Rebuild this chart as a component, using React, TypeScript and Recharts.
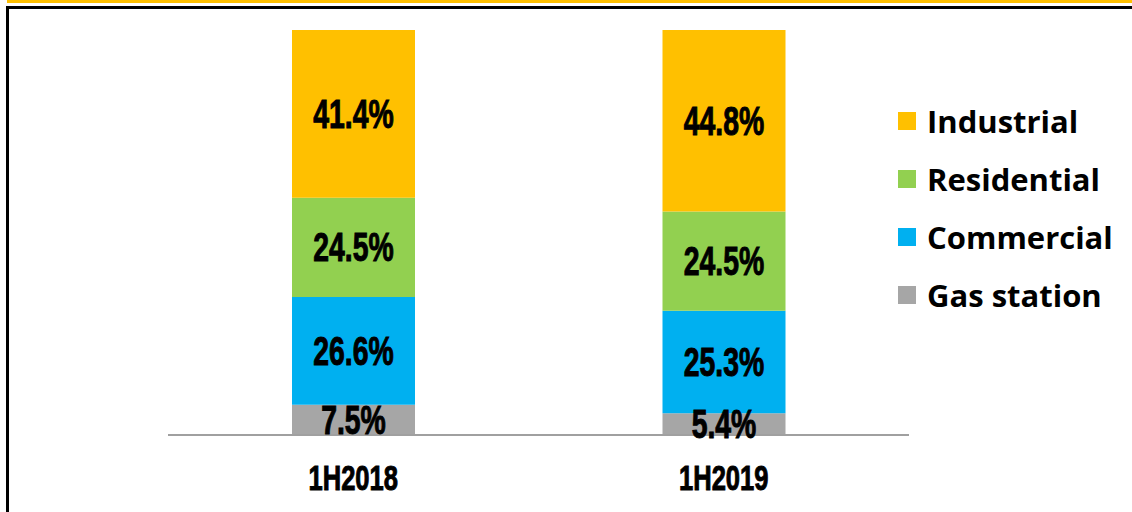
import React from 'react';
import { BarChart, Bar, XAxis, YAxis, LabelList } from 'recharts';

const periods = ['1H2018', '1H2019'];
const gasStation = [7.5, 5.4];
const commercial = [26.6, 25.3];
const residential = [24.5, 24.5];
const industrial = [41.4, 44.8];

const seriesNames = ['Industrial', 'Residential', 'Commercial', 'Gas station'];
const seriesColors = ['#FFC000', '#92D050', '#00B0F0', '#A6A6A6'];

const data = periods.map((p, i) => ({
  period: p,
  gas: gasStation[i],
  commercial: commercial[i],
  residential: residential[i],
  industrial: industrial[i],
}));

const numFont = '"Liberation Sans", Arial, sans-serif';

// condensed bold text, squeezed horizontally
const NarrowText = ({ x, y, size, scale, children }: any) => (
  <text
    transform={`translate(${x},${y}) scale(${scale},1)`}
    textAnchor="middle"
    fontFamily={numFont}
    fontWeight="bold"
    fontSize={size}
    fill="#000"
    stroke="#000"
    strokeWidth={1}
  >
    {children}
  </text>
);

// value label centred in each segment
const SegmentLabel = (props: any) => {
  const { x, y, width, height, value } = props;
  return (
    <NarrowText x={x + width / 2} y={y + height / 2 + 14} size={40} scale={0.71}>
      {`${value.toFixed(1)}%`}
    </NarrowText>
  );
};

const PeriodTick = (props: any) => {
  const { x, y, payload } = props;
  return (
    <NarrowText x={x} y={y + 47} size={36} scale={0.71}>
      {payload.value}
    </NarrowText>
  );
};

const LegendBox = () => (
  <div
    style={{
      position: 'absolute',
      left: 898,
      top: 92,
      fontFamily: '"Open Sans", sans-serif',
      fontWeight: 700,
      fontSize: 31,
      whiteSpace: 'nowrap',
    }}
  >
    {seriesNames.map((name, i) => (
      <div key={name} style={{ display: 'flex', alignItems: 'center', height: 58 }}>
        <span
          style={{
            display: 'inline-block',
            width: 18,
            height: 18,
            background: seriesColors[i],
            marginRight: 11,
          }}
        />
        <span style={{ color: '#000' }}>{name}</span>
      </div>
    ))}
  </div>
);

export default function App() {
  return (
    <div style={{ position: 'absolute', left: 0, top: 0, width: 1132, height: 512, background: '#fff', overflow: 'hidden' }}>
      {/* frame: yellow strip + black border */}
      <div style={{ position: 'absolute', left: 7, top: 0, right: 0, height: 3, background: '#FFC000' }} />
      <div style={{ position: 'absolute', left: 6, top: 6, right: -10, bottom: -10, border: '3px solid #000' }} />
      <BarChart
        width={1132}
        height={512}
        data={data}
        margin={{ top: 30, right: 223, left: 168, bottom: 0 }}
        barSize={123}
        style={{ position: 'absolute', left: 0, top: 0 }}
      >
        <XAxis
          dataKey="period"
          axisLine={{ stroke: '#A0A0A0', strokeWidth: 2 }}
          tickLine={false}
          tick={<PeriodTick />}
          height={77}
        />
        <YAxis hide domain={[0, 100]} />
        <Bar dataKey="gas" stackId="a" fill={seriesColors[3]} isAnimationActive={false}>
          <LabelList dataKey="gas" content={<SegmentLabel />} />
        </Bar>
        <Bar dataKey="commercial" stackId="a" fill={seriesColors[2]} isAnimationActive={false}>
          <LabelList dataKey="commercial" content={<SegmentLabel />} />
        </Bar>
        <Bar dataKey="residential" stackId="a" fill={seriesColors[1]} isAnimationActive={false}>
          <LabelList dataKey="residential" content={<SegmentLabel />} />
        </Bar>
        <Bar dataKey="industrial" stackId="a" fill={seriesColors[0]} isAnimationActive={false}>
          <LabelList dataKey="industrial" content={<SegmentLabel />} />
        </Bar>
      </BarChart>
      <LegendBox />
    </div>
  );
}
